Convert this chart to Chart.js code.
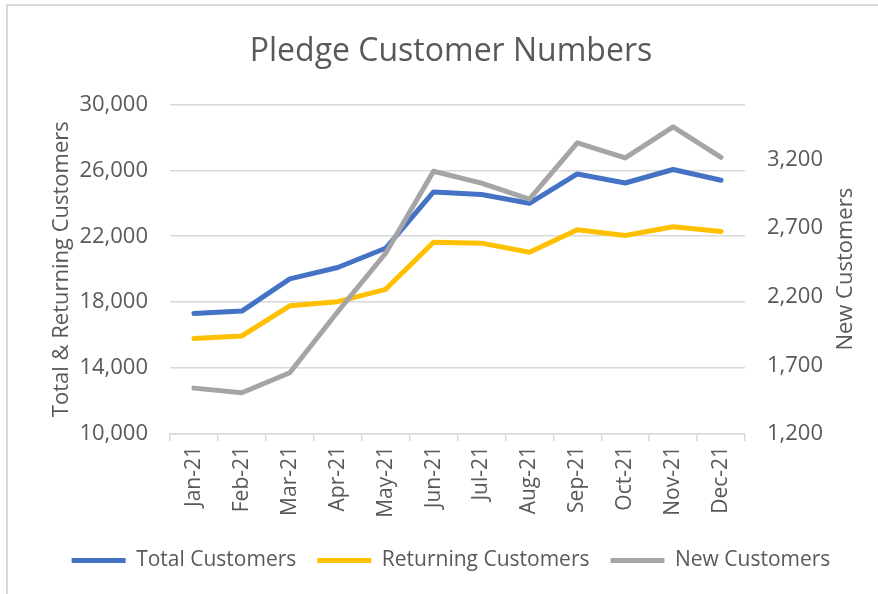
<!DOCTYPE html>
<html>
<head>
<meta charset="utf-8">
<script src="https://cdn.jsdelivr.net/npm/chart.js@4"></script>
<style>
  html, body { margin: 0; padding: 0; background: #fff; }
  #wrap { width: 878px; height: 594px; position: relative; }
</style>
</head>
<body>
<div id="wrap"><canvas id="chart"></canvas></div>
<script>
const months = ["Jan-21", "Feb-21", "Mar-21", "Apr-21", "May-21", "Jun-21",
  "Jul-21", "Aug-21", "Sep-21", "Oct-21", "Nov-21", "Dec-21"];
const totalCustomers = [17310, 17460, 19410, 20100, 21270, 24690, 24530, 24000, 25780, 25230, 26050, 25400];
const returningCustomers = [15790, 15950, 17780, 18030, 18780, 21640, 21580, 21030, 22400, 22050, 22580, 22290];
const newCustomers = [1534, 1500, 1646, 2090, 2516, 3113, 3027, 2911, 3320, 3210, 3437, 3215];
const leftTicks = [10000, 14000, 18000, 22000, 26000, 30000];
const rightTicks = [1200, 1700, 2200, 2700, 3200];

const textColor = "#595959";
const gridColor = "#d9d9d9";
const fontFamily = "'Open Sans', sans-serif";

// frame lines + right axis title (reads bottom to top like the left one)
const extras = {
  id: "extras",
  afterDraw(chart) {
    const ctx = chart.ctx;
    ctx.save();
    ctx.strokeStyle = gridColor;
    ctx.lineWidth = 2;
    ctx.beginPath();
    ctx.moveTo(7, 594);
    ctx.lineTo(7, 5);
    ctx.lineTo(878, 5);
    ctx.stroke();

    ctx.fillStyle = textColor;
    ctx.font = "22px " + fontFamily;
    ctx.textAlign = "center";
    ctx.textBaseline = "middle";
    ctx.translate(846, (chart.chartArea.top + chart.chartArea.bottom) / 2);
    ctx.rotate(-Math.PI / 2);
    ctx.fillText("New Customers", 0, 0);
    ctx.restore();
  }
};

const lineStyle = { borderWidth: 5, borderCapStyle: "round", borderJoinStyle: "round" };

new Chart(document.getElementById("chart"), {
  type: "line",
  data: {
    labels: months,
    datasets: [
      {
        label: "Total Customers",
        data: totalCustomers,
        borderColor: "#4472c4",
        backgroundColor: "#4472c4",
        ...lineStyle,
        yAxisID: "y",
        order: 1
      },
      {
        label: "Returning Customers",
        data: returningCustomers,
        borderColor: "#ffc000",
        backgroundColor: "#ffc000",
        ...lineStyle,
        yAxisID: "y",
        order: 2
      },
      {
        label: "New Customers",
        data: newCustomers,
        borderColor: "#a5a5a5",
        backgroundColor: "#a5a5a5",
        ...lineStyle,
        yAxisID: "y1",
        order: 0
      }
    ]
  },
  options: {
    responsive: true,
    maintainAspectRatio: false,
    animation: false,
    elements: {
      line: { tension: 0 },
      point: { radius: 0, hoverRadius: 0 }
    },
    layout: { padding: { left: 24, right: 0, top: 5, bottom: 13 } },
    plugins: {
      tooltip: { enabled: false },
      title: {
        display: true,
        text: "Pledge Customer Numbers",
        color: textColor,
        font: { family: fontFamily, size: 32, weight: "normal" },
        padding: { top: 28, bottom: 33 }
      },
      legend: {
        display: true,
        position: "bottom",
        labels: {
          color: textColor,
          font: { family: fontFamily, size: 21 },
          usePointStyle: true,
          pointStyle: "line",
          pointStyleWidth: 54,
          padding: 21,
          sort: (a, b) => a.datasetIndex - b.datasetIndex
        }
      }
    },
    scales: {
      x: {
        offset: true,
        grid: {
          offset: true,
          drawOnChartArea: false,
          drawTicks: true,
          tickLength: 7,
          color: gridColor,
          lineWidth: 1.5
        },
        border: { display: true, color: gridColor, width: 1.5 },
        ticks: {
          color: textColor,
          font: { family: fontFamily, size: 21 },
          minRotation: 90,
          maxRotation: 90,
          padding: 5
        },
        afterFit: (scale) => { scale.height = 95; }
      },
      y: {
        position: "left",
        min: 10000,
        max: 30000,
        afterBuildTicks: (scale) => { scale.ticks = leftTicks.map((v) => ({ value: v })); },
        grid: { color: gridColor, lineWidth: 1.5, drawTicks: false },
        border: { display: false },
        ticks: {
          color: textColor,
          font: { family: fontFamily, size: 22 },
          padding: 22,
          callback: (v) => v.toLocaleString("en-US")
        },
        title: {
          display: true,
          text: "Total & Returning Customers",
          color: textColor,
          font: { family: fontFamily, size: 22 },
          padding: { top: 25, bottom: 0 }
        },
        afterFit: (scale) => { scale.width = 146; }
      },
      y1: {
        position: "right",
        min: 1200,
        max: 3600,
        afterBuildTicks: (scale) => { scale.ticks = rightTicks.map((v) => ({ value: v })); },
        grid: { display: false, drawTicks: false },
        border: { display: false },
        ticks: {
          color: textColor,
          font: { family: fontFamily, size: 22 },
          padding: 22,
          callback: (v) => v.toLocaleString("en-US")
        },
        afterFit: (scale) => { scale.width = 133; }
      }
    }
  },
  plugins: [extras]
});
</script>
</body>
</html>
